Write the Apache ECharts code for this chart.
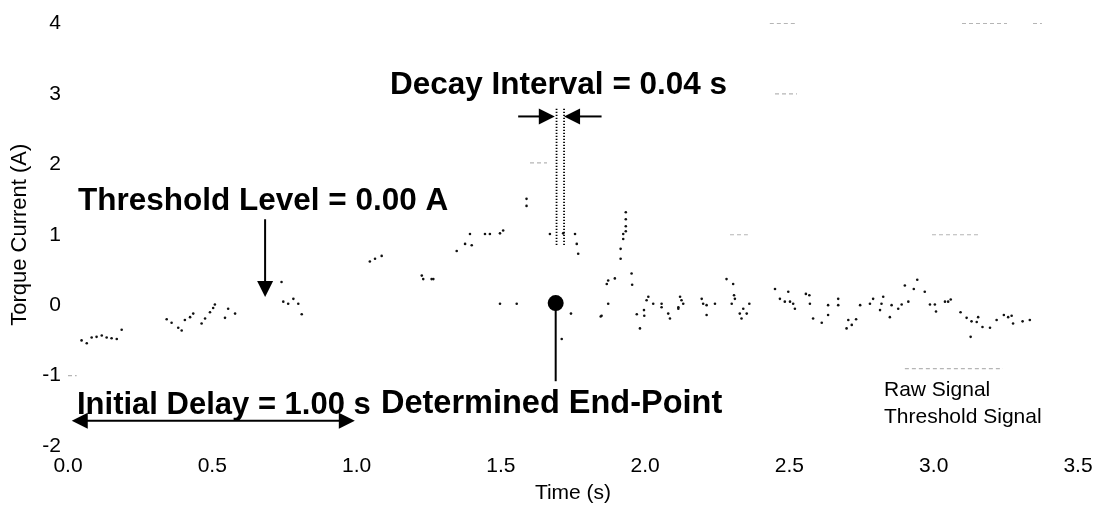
<!DOCTYPE html>
<html>
<head>
<meta charset="utf-8">
<script src="https://cdn.jsdelivr.net/npm/echarts@6/dist/echarts.min.js"></script>
<style>
  html, body { margin: 0; padding: 0; background: #fff; }
  #chart { width: 1103px; height: 509px; }
</style>
</head>
<body>
<div id="chart"></div>
<script>
// ---------- data ----------
const xTicks = ['0.0', '0.5', '1.0', '1.5', '2.0', '2.5', '3.0', '3.5'];
const yTicks = ['-2', '-1', '0', '1', '2', '3', '4'];

const rawTime = [
  0.047, 0.065, 0.082, 0.099, 0.117, 0.134, 0.151, 0.169, 0.186,
  0.342, 0.359, 0.382, 0.394, 0.405, 0.423, 0.434, 0.463, 0.475, 0.492, 0.503, 0.509, 0.544, 0.555, 0.579,
  0.740, 0.746, 0.763, 0.781, 0.798, 0.810,
  1.046, 1.064, 1.087, 1.226, 1.231, 1.260, 1.266,
  1.347, 1.376, 1.393, 1.399, 1.445, 1.462, 1.497, 1.497, 1.508, 1.555, 1.589, 1.589,
  1.670, 1.711, 1.716, 1.743, 1.757, 1.763, 1.768,
  1.846, 1.849, 1.867, 1.872, 1.872, 1.895, 1.915, 1.915, 1.924, 1.924,
  1.933, 1.933, 1.933, 1.933, 1.953, 1.955, 1.971, 1.982, 1.996, 1.997,
  2.005, 2.011, 2.028, 2.057, 2.057, 2.080, 2.086, 2.115, 2.115, 2.121, 2.126, 2.132,
  2.196, 2.201, 2.213, 2.213, 2.242, 2.282, 2.300, 2.305, 2.308, 2.311,
  2.328, 2.334, 2.340, 2.352, 2.361, 2.450, 2.467, 2.484, 2.496, 2.502, 2.513, 2.519,
  2.557, 2.569, 2.571, 2.582, 2.612, 2.634, 2.634, 2.669, 2.669, 2.698, 2.704, 2.716, 2.731, 2.745,
  2.779, 2.790, 2.814, 2.819, 2.825, 2.848, 2.854, 2.877, 2.889, 2.900, 2.912, 2.931, 2.943, 2.969,
  2.987, 3.004, 3.008, 3.039, 3.050, 3.059, 3.093, 3.114, 3.128, 3.131, 3.149, 3.154, 3.169, 3.195,
  3.218, 3.243, 3.258, 3.270, 3.275, 3.308, 3.333
];
const rawCurrent = [
  -0.50, -0.54, -0.46, -0.45, -0.43, -0.46, -0.47, -0.48, -0.35,
  -0.20, -0.25, -0.32, -0.36, -0.21, -0.17, -0.12, -0.26, -0.19, -0.10, -0.04, 0.01, -0.18, -0.05, -0.12,
  0.33, 0.05, 0.02, 0.09, 0.02, -0.13,
  0.62, 0.66, 0.70, 0.42, 0.37, 0.37, 0.37,
  0.77, 0.87, 1.01, 0.85, 1.01, 1.01, 1.02, 0.02, 1.06, 0.02, 1.41, 1.51,
  1.01, -0.48, 1.02, -0.12, 1.01, 0.87, 0.73,
  -0.16, -0.15, 0.30, 0.35, 0.02, 0.38, 0.80, 0.66, 1.01, 0.94,
  1.32, 1.22, 1.12, 1.05, 0.45, 0.29, -0.13, -0.33, -0.07, -0.15,
  0.07, 0.12, 0.02, 0.02, -0.03, -0.12, -0.19, -0.03, -0.05, 0.12, 0.07, 0.02,
  0.09, 0.02, 0.00, -0.14, 0.02, 0.37, 0.02, 0.30, 0.14, 0.09,
  -0.12, -0.19, -0.05, -0.12, 0.02, 0.23, 0.09, 0.05, 0.19, 0.05, 0.02, -0.05,
  0.16, 0.14, 0.02, -0.19, -0.25, 0.00, -0.14, 0.09, 0.00, -0.33, -0.21, -0.28, -0.20, 0.00,
  0.02, 0.09, -0.07, 0.02, 0.12, -0.17, 0.00, -0.05, 0.01, 0.28, 0.05, 0.23, 0.36, 0.19,
  0.01, 0.01, -0.09, 0.05, 0.05, 0.08, -0.10, -0.18, -0.45, -0.23, -0.24, -0.17, -0.31, -0.32,
  -0.21, -0.14, -0.17, -0.15, -0.26, -0.23, -0.21
];

// faint fragments of the threshold signal that survive in the picture ('-' = gap)
const thresholdTime = [
  0.000, 0.030, 0.030,
  1.601, 1.660, 1.660,
  2.294, 2.356, 2.356,
  2.432, 2.526, 2.526,
  2.450, 2.526, 2.526,
  2.900, 3.240, 3.240,
  2.994, 3.160, 3.160,
  3.098, 3.254, 3.254,
  3.344, 3.375
];
const thresholdCurrent = [
  -1.0, -1.0, '-',
  2.02, 2.02, '-',
  1.0, 1.0, '-',
  4.0, 4.0, '-',
  3.0, 3.0, '-',
  -0.9, -0.9, '-',
  1.0, 1.0, '-',
  4.0, 4.0, '-',
  4.0, 4.0
];

// annotation geometry (data units): start, end, heads (0 none, 1 end, 2 both, -1 dotted)
const annStartX = [0.683, 1.560, 1.849, 0.013, 1.690, 1.693, 1.719];
const annStartY = [1.22, 2.68, 2.68, -1.64, 0.03, 0.855, 0.855];
const annEndX   = [0.683, 1.687, 1.719, 0.994, 1.690, 1.693, 1.719];
const annEndY   = [0.116, 2.68, 2.68, -1.64, -1.08, 2.80, 2.80];
const annHeads  = [1, 1, 1, 2, 0, -1, -1];

const endPointTime = [1.690];
const endPointCurrent = [0.03];

const labelDecay = 'Decay Interval = 0.04 s';
const labelThreshold = 'Threshold Level = 0.00 A';
const labelDelay = 'Initial Delay = 1.00 s';
const labelEnd = 'Determined End-Point';
const legendNames = ['Raw Signal', 'Threshold Signal'];

// ---------- build ----------
const FONT = '"Liberation Sans", Arial, Helvetica, sans-serif';
const rawData = rawTime.map((t, i) => [t, rawCurrent[i]]);
const thrData = thresholdTime.map((t, i) => [t, thresholdCurrent[i]]);
const annData = annStartX.map((x, i) => [x, annStartY[i], annEndX[i], annEndY[i], annHeads[i]]);
const endData = endPointTime.map((t, i) => [t, endPointCurrent[i]]);

function renderAnnotation(params, api) {
  const p1 = api.coord([api.value(0), api.value(1)]);
  const p2 = api.coord([api.value(2), api.value(3)]);
  const heads = api.value(4);
  if (heads < 0) {
    return {
      type: 'line',
      shape: { x1: p1[0], y1: p1[1], x2: p2[0], y2: p2[1] },
      style: { stroke: '#000', lineWidth: 1.8, lineDash: [1.2, 1.8] }
    };
  }
  const L = 16, W = 8;
  const dx = p2[0] - p1[0], dy = p2[1] - p1[1];
  const len = Math.hypot(dx, dy) || 1;
  const ux = dx / len, uy = dy / len;
  const head = (tip, vx, vy) => ({
    type: 'polygon',
    shape: { points: [
      [tip[0], tip[1]],
      [tip[0] - vx * L - vy * W, tip[1] - vy * L + vx * W],
      [tip[0] - vx * L + vy * W, tip[1] - vy * L - vx * W]
    ] },
    style: { fill: '#000' }
  });
  let a = p1.slice(), b = p2.slice();
  const children = [];
  if (heads >= 1) { children.push(head(p2, ux, uy)); b = [p2[0] - ux * L * 0.8, p2[1] - uy * L * 0.8]; }
  if (heads >= 2) { children.push(head(p1, -ux, -uy)); a = [p1[0] + ux * L * 0.8, p1[1] + uy * L * 0.8]; }
  children.unshift({
    type: 'line',
    shape: { x1: a[0], y1: a[1], x2: b[0], y2: b[1] },
    style: { stroke: '#000', lineWidth: 2 }
  });
  return { type: 'group', children: children };
}

const chart = echarts.init(document.getElementById('chart'), null, { renderer: 'canvas' });
chart.setOption({
  animation: false,
  backgroundColor: '#fff',
  textStyle: { fontFamily: FONT, color: '#000' },
  grid: { left: 68, right: 25, top: 23.5, bottom: 61 },
  legend: {
    data: legendNames,
    orient: 'vertical',
    left: 878, top: 377,
    padding: 0,
    itemWidth: 0, itemHeight: 0, itemGap: 0,
    selectedMode: false,
    textStyle: { fontFamily: FONT, fontSize: 21, color: '#000', lineHeight: 27 }
  },
  xAxis: {
    type: 'value', min: 0, max: 3.5, interval: 0.5,
    name: 'Time (s)', nameLocation: 'middle', nameGap: 37,
    nameTextStyle: { fontFamily: FONT, fontSize: 21, color: '#000' },
    axisLine: { show: false }, axisTick: { show: false }, splitLine: { show: false },
    axisLabel: {
      fontFamily: FONT, fontSize: 21, color: '#000', margin: 10,
      showMinLabel: true, showMaxLabel: true,
      formatter: v => xTicks[Math.round(v / 0.5)]
    }
  },
  yAxis: {
    type: 'value', min: -2, max: 4, interval: 1,
    name: 'Torque Current (A)', nameLocation: 'middle', nameGap: 35, nameRotate: 90,
    nameTextStyle: { fontFamily: FONT, fontSize: 22, color: '#000' },
    axisLine: { show: false }, axisTick: { show: false }, splitLine: { show: false },
    axisLabel: {
      fontFamily: FONT, fontSize: 21, color: '#000', margin: 7,
      showMinLabel: true, showMaxLabel: true,
      formatter: v => yTicks[Math.round(v + 2)]
    }
  },
  series: [
    {
      name: 'Raw Signal', type: 'scatter', data: rawData,
      symbol: 'circle', symbolSize: 2.6, silent: true,
      itemStyle: { color: '#111', opacity: 1 }
    },
    {
      name: 'Threshold Signal', type: 'line', data: thrData,
      showSymbol: false, connectNulls: false, silent: true,
      lineStyle: { color: '#b5b5b5', width: 1.2, type: [4, 3] },
      itemStyle: { color: '#b5b5b5' }
    },
    {
      name: 'annotations', type: 'custom', data: annData,
      encode: { x: [0, 2], y: [1, 3] },
      renderItem: renderAnnotation, silent: true, clip: false, z: 5
    },
    {
      name: 'end point', type: 'scatter', data: endData,
      symbol: 'circle', symbolSize: 16, silent: true, z: 6,
      itemStyle: { color: '#000', opacity: 1 }
    }
  ],
  graphic: [
    { type: 'text', x: 390, y: 85.5, silent: true,
      style: { text: labelDecay, font: 'bold 31.5px ' + FONT, fill: '#000', verticalAlign: 'middle' } },
    { type: 'text', x: 78, y: 201.5, silent: true,
      style: { text: labelThreshold, font: 'bold 31.5px ' + FONT, fill: '#000', verticalAlign: 'middle' } },
    { type: 'text', x: 77, y: 405, silent: true,
      style: { text: labelDelay, font: 'bold 31px ' + FONT, fill: '#000', verticalAlign: 'middle' } },
    { type: 'text', x: 381, y: 404, silent: true,
      style: { text: labelEnd, font: 'bold 32.5px ' + FONT, fill: '#000', verticalAlign: 'middle' } }
  ]
});
</script>
</body>
</html>
